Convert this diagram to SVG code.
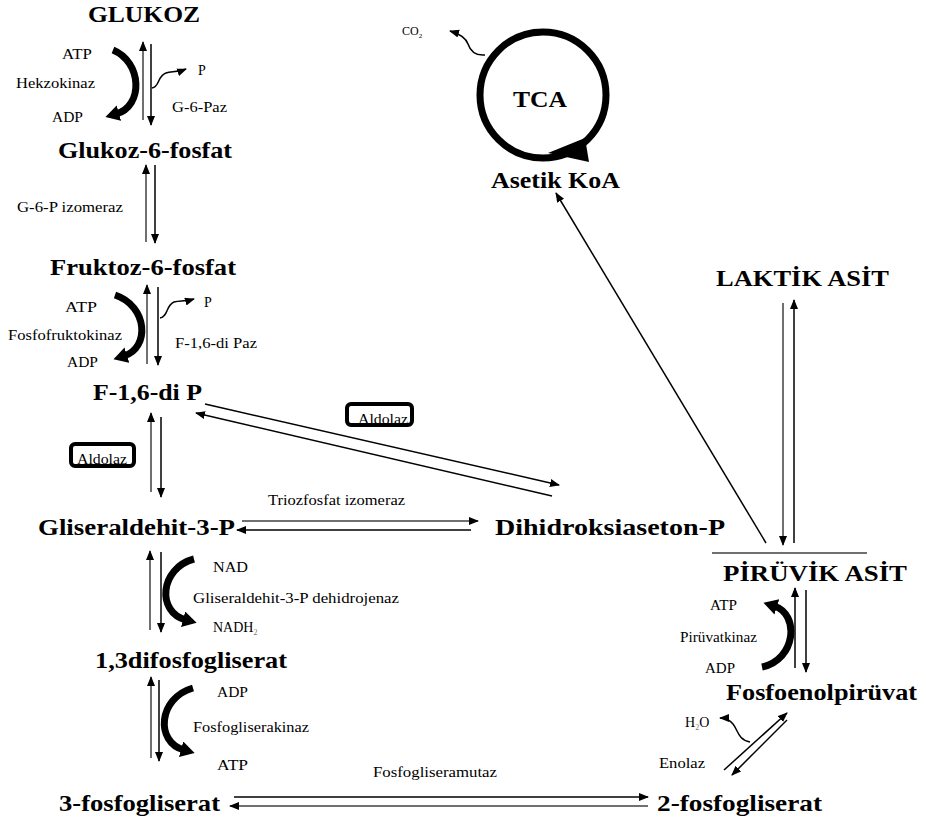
<svg xmlns="http://www.w3.org/2000/svg" width="926" height="825" viewBox="0 0 926 825">
<style>
text{font-family:"Liberation Serif","Times New Roman",serif}
.m{font-weight:bold;font-size:24px;fill:#000}
.s{font-size:14px;fill:#000}
.ln{stroke:#000;stroke-width:1.5;fill:none}
.g{stroke:#707070;stroke-width:2;fill:none}
.th{stroke:#000;stroke-width:7;fill:none}
.box{fill:none;stroke:#000;stroke-width:4}
</style>
<defs>
<marker id="a" markerUnits="userSpaceOnUse" markerWidth="12" markerHeight="10" refX="9" refY="4" orient="auto"><path d="M0,0 L10,4 L0,8 z" fill="#000"/></marker>
<marker id="b" markerUnits="userSpaceOnUse" markerWidth="20" markerHeight="20" refX="3" refY="8" orient="auto"><path d="M0,0 L14,8 L0,16 z" fill="#000"/></marker>
</defs>

<g id="n-glukoz"><text class="m" x="88" y="22" textLength="112" lengthAdjust="spacingAndGlyphs">GLUKOZ</text></g>
<g id="n-g6p"><text class="m" x="58" y="158" textLength="174" lengthAdjust="spacingAndGlyphs">Glukoz-6-fosfat</text></g>
<g id="n-f6p"><text class="m" x="50" y="275" textLength="186" lengthAdjust="spacingAndGlyphs">Fruktoz-6-fosfat</text></g>
<g id="n-f16dp"><text class="m" x="93" y="400" textLength="109" lengthAdjust="spacingAndGlyphs">F-1,6-di P</text></g>
<g id="n-g3p"><text class="m" x="38" y="535" textLength="197" lengthAdjust="spacingAndGlyphs">Gliseraldehit-3-P</text></g>
<g id="n-dhap"><text class="m" x="495" y="535" textLength="230" lengthAdjust="spacingAndGlyphs">Dihidroksiaseton-P</text></g>
<g id="n-13dpg"><text class="m" x="95" y="668" textLength="192" lengthAdjust="spacingAndGlyphs">1,3difosfogliserat</text></g>
<g id="n-3pg"><text class="m" x="59" y="811" textLength="161" lengthAdjust="spacingAndGlyphs">3-fosfogliserat</text></g>
<g id="n-2pg"><text class="m" x="657" y="811" textLength="165" lengthAdjust="spacingAndGlyphs">2-fosfogliserat</text></g>
<g id="n-pep"><text class="m" x="726" y="700" textLength="191" lengthAdjust="spacingAndGlyphs">Fosfoenolpirüvat</text></g>
<g id="n-pyr"><line x1="712" y1="553" x2="867" y2="553" stroke="#707070" stroke-width="2"/><text class="m" x="723" y="581" textLength="184" lengthAdjust="spacingAndGlyphs">PİRÜVİK ASİT</text></g>
<g id="n-lak"><text class="m" x="716" y="286" textLength="173" lengthAdjust="spacingAndGlyphs">LAKTİK ASİT</text></g>
<g id="n-acoa"><text class="m" x="491" y="188" textLength="129" lengthAdjust="spacingAndGlyphs">Asetik KoA</text></g>
<g id="n-tca">
<circle cx="543" cy="95" r="63" fill="none" stroke="#000" stroke-width="7"/>
<polygon points="548,153 585,138 589,162" fill="#000"/>
<text class="m" x="513" y="107" font-size="27" textLength="54" lengthAdjust="spacingAndGlyphs">TCA</text>
</g>

<g id="labels">
<text class="s" x="62" y="59" textLength="30" lengthAdjust="spacingAndGlyphs">ATP</text>
<text class="s" x="16" y="88" textLength="79" lengthAdjust="spacingAndGlyphs">Hekzokinaz</text>
<text class="s" x="52" y="122" textLength="31" lengthAdjust="spacingAndGlyphs">ADP</text>
<text class="s" x="198" y="75">P</text>
<text class="s" x="172" y="112" textLength="55" lengthAdjust="spacingAndGlyphs">G-6-Paz</text>
<text class="s" x="17" y="212" textLength="106" lengthAdjust="spacingAndGlyphs">G-6-P izomeraz</text>
<text class="s" x="65" y="312" textLength="32" lengthAdjust="spacingAndGlyphs">ATP</text>
<text class="s" x="8" y="340" textLength="114" lengthAdjust="spacingAndGlyphs">Fosfofruktokinaz</text>
<text class="s" x="67" y="367" textLength="31" lengthAdjust="spacingAndGlyphs">ADP</text>
<text class="s" x="204" y="307">P</text>
<text class="s" x="175" y="348" textLength="82" lengthAdjust="spacingAndGlyphs">F-1,6-di Paz</text>
<rect class="box" x="71" y="444" width="63" height="22" rx="4"/>
<text class="s" x="77" y="464" textLength="50" lengthAdjust="spacingAndGlyphs">Aldolaz</text>
<rect class="box" x="347" y="404" width="65" height="21" rx="4"/>
<text class="s" x="358" y="424" textLength="50" lengthAdjust="spacingAndGlyphs">Aldolaz</text>
<text class="s" x="268" y="505" textLength="137" lengthAdjust="spacingAndGlyphs">Triozfosfat izomeraz</text>
<text class="s" x="213" y="572" textLength="35" lengthAdjust="spacingAndGlyphs">NAD</text>
<text class="s" x="193" y="603" textLength="206" lengthAdjust="spacingAndGlyphs">Gliseraldehit-3-P dehidrojenaz</text>
<text class="s" x="213" y="632">NADH<tspan font-size="8" dy="3" fill="#777">2</tspan></text>
<text class="s" x="217" y="697" textLength="31" lengthAdjust="spacingAndGlyphs">ADP</text>
<text class="s" x="193" y="732" textLength="116" lengthAdjust="spacingAndGlyphs">Fosfogliserakinaz</text>
<text class="s" x="217" y="770" textLength="31" lengthAdjust="spacingAndGlyphs">ATP</text>
<text class="s" x="373" y="777" textLength="124" lengthAdjust="spacingAndGlyphs">Fosfogliseramutaz</text>
<text class="s" x="659" y="768" textLength="46" lengthAdjust="spacingAndGlyphs">Enolaz</text>
<text class="s" x="685" y="727">H<tspan font-size="8" dy="3" fill="#777">2</tspan><tspan dy="-3">O</tspan></text>
<text class="s" x="710" y="610" textLength="27" lengthAdjust="spacingAndGlyphs">ATP</text>
<text class="s" x="680" y="642" textLength="77" lengthAdjust="spacingAndGlyphs">Pirüvatkinaz</text>
<text class="s" x="705" y="673" textLength="30" lengthAdjust="spacingAndGlyphs">ADP</text>
<text x="402" y="35" font-family="Liberation Sans, Arial, sans-serif" font-size="12">CO<tspan font-size="7" dy="3">2</tspan></text>
</g>

<g id="connectors">
<line class="g" x1="143" y1="120" x2="143" y2="42" marker-end="url(#a)"/>
<line class="ln" x1="151" y1="44" x2="151" y2="125" marker-end="url(#a)"/>
<path class="th" d="M113,50 C142,62 144,106 116,114" marker-end="url(#b)"/>
<path class="ln" d="M152,88 C160,87 157,76 166,73 C172,71 176,73 186,69" marker-end="url(#a)"/>
<line class="g" x1="146" y1="242" x2="146" y2="165" marker-end="url(#a)"/>
<line class="ln" x1="155" y1="165" x2="155" y2="243" marker-end="url(#a)"/>
<line class="g" x1="147" y1="364" x2="147" y2="285" marker-end="url(#a)"/>
<line class="ln" x1="158" y1="287" x2="158" y2="365" marker-end="url(#a)"/>
<path class="th" d="M115,295 C148,306 150,348 124,356" marker-end="url(#b)"/>
<path class="ln" d="M160,318 C168,317 166,305 174,302 C180,300 184,302 194,299" marker-end="url(#a)"/>
<line class="g" x1="151" y1="492" x2="151" y2="413" marker-end="url(#a)"/>
<line class="ln" x1="161" y1="417" x2="161" y2="497" marker-end="url(#a)"/>
<line class="ln" x1="205" y1="404" x2="559" y2="485" marker-end="url(#a)"/>
<line class="ln" x1="552" y1="496" x2="196" y2="413" marker-end="url(#a)"/>
<line class="g" x1="242" y1="521" x2="478" y2="521" marker-end="url(#a)"/>
<line class="ln" x1="471" y1="530" x2="237" y2="530" marker-end="url(#a)"/>
<line class="g" x1="150" y1="630" x2="150" y2="551" marker-end="url(#a)"/>
<line class="ln" x1="161" y1="552" x2="161" y2="632" marker-end="url(#a)"/>
<path class="th" d="M194,559 C160,568 156,612 186,620" marker-end="url(#b)"/>
<line class="g" x1="151" y1="758" x2="151" y2="677" marker-end="url(#a)"/>
<line class="ln" x1="159" y1="680" x2="159" y2="761" marker-end="url(#a)"/>
<path class="th" d="M193,688 C158,698 155,742 184,750" marker-end="url(#b)"/>
<line class="ln" x1="234" y1="797" x2="648" y2="797" marker-end="url(#a)"/>
<line class="g" x1="648" y1="806" x2="230" y2="806" marker-end="url(#a)"/>
<line class="ln" x1="724" y1="770" x2="787" y2="713" marker-end="url(#a)"/>
<line class="ln" x1="787" y1="720" x2="732" y2="775" marker-end="url(#a)"/>
<path class="ln" d="M750,742 C738,740 738,730 733,724 C729,719 725,718 720,718" marker-end="url(#a)"/>
<line class="ln" x1="795" y1="668" x2="795" y2="588" marker-end="url(#a)"/>
<line class="ln" x1="806" y1="590" x2="806" y2="672" marker-end="url(#a)"/>
<path class="th" d="M762,667 C796,660 800,614 774,606" marker-end="url(#b)"/>
<line class="g" x1="783" y1="303" x2="783" y2="545" marker-end="url(#a)"/>
<line class="ln" x1="794" y1="543" x2="794" y2="300" marker-end="url(#a)"/>
<line class="ln" x1="766" y1="543" x2="556" y2="193" marker-end="url(#a)"/>
<path class="ln" d="M485,55 C474,56 470,50 468,44 C466,38 460,34 450,31" marker-end="url(#a)"/>
</g>
</svg>
